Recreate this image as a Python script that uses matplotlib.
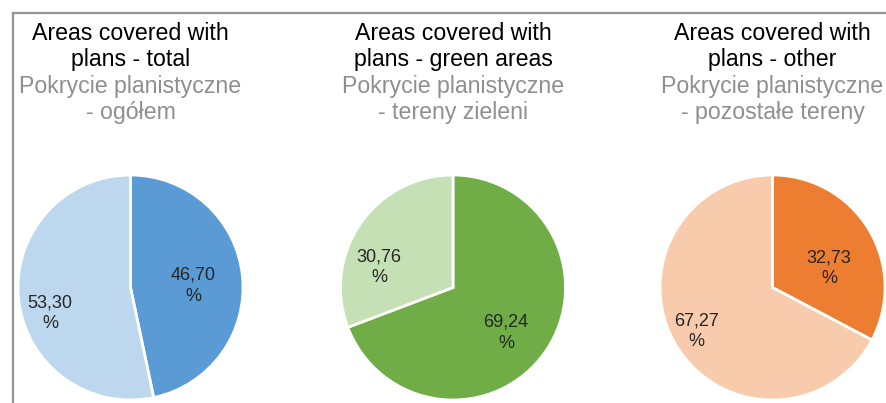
import numpy as np
import matplotlib
matplotlib.use("Agg")
import matplotlib.pyplot as plt
from matplotlib.lines import Line2D

plt.rcParams['font.family'] = ['Liberation Sans', 'DejaVu Sans']

titles_en = ["Areas covered with\nplans - total",
             "Areas covered with\nplans - green areas",
             "Areas covered with\nplans - other"]
titles_pl = ["Pokrycie planistyczne\n- ogółem",
             "Pokrycie planistyczne\n- tereny zieleni",
             "Pokrycie planistyczne\n- pozostałe tereny"]
covered = [46.70, 69.24, 32.73]
uncovered = [53.30, 30.76, 67.27]
dark_colors = ["#5B9BD5", "#70AD47", "#ED7D31"]
light_colors = ["#BDD7EE", "#C5E0B4", "#F8CBAD"]

# label placement style: (radial distance, angular offset from wedge middle in degrees)
label_style = [[(0.555, -4.5), (0.75, 11.7)],
               [(0.62, -6.0), (0.68, 19.1)],
               [(0.53, -12.5), (0.78, -1.0)]]

W, H = 887, 403
fig = plt.figure(figsize=(W / 100, H / 100), dpi=100)

centers_x = [130.5, 453, 772.5]
r_px = 112.5
cy = 287.5

def fx(x):
    return x / W

def fy(y):
    return 1 - y / H

for i in range(3):
    cx = centers_x[i]
    ax = fig.add_axes([fx(cx - r_px), fy(cy + r_px), 2 * r_px / W, 2 * r_px / H])
    vals = [covered[i], uncovered[i]]
    wedges, _ = ax.pie(vals, colors=[dark_colors[i], light_colors[i]],
                       startangle=90, counterclock=False, radius=1,
                       wedgeprops=dict(edgecolor='white', linewidth=2))
    ax.set_xlim(-1, 1)
    ax.set_ylim(-1, 1)
    ax.set_aspect('equal')
    ax.axis('off')
    for w, v, (d, off) in zip(wedges, vals, label_style[i]):
        ang = np.deg2rad((w.theta1 + w.theta2) / 2 + off)
        ax.text(d * np.cos(ang), d * np.sin(ang),
                f"{v:.2f}".replace('.', ',') + "\n%",
                ha='center', va='center', fontsize=13, color='#262626',
                linespacing=1.3)

    en = titles_en[i].split("\n")
    pl = titles_pl[i].split("\n")
    baselines = [40, 66, 93, 119]
    lines = [(en[0], '#000000'), (en[1], '#000000'), (pl[0], '#8F8F8F'), (pl[1], '#8F8F8F')]
    for (txt, col), by in zip(lines, baselines):
        fig.text(fx(cx), fy(by), txt, ha='center', va='baseline',
                 fontsize=16.7, color=col)

# frame lines
fig.add_artist(Line2D([fx(13), 1], [fy(13), fy(13)], color='#939393', linewidth=1.6))
fig.add_artist(Line2D([fx(13), fx(13)], [fy(13), 0], color='#939393', linewidth=1.6))

fig.savefig("out.png", dpi=100, facecolor='white')
